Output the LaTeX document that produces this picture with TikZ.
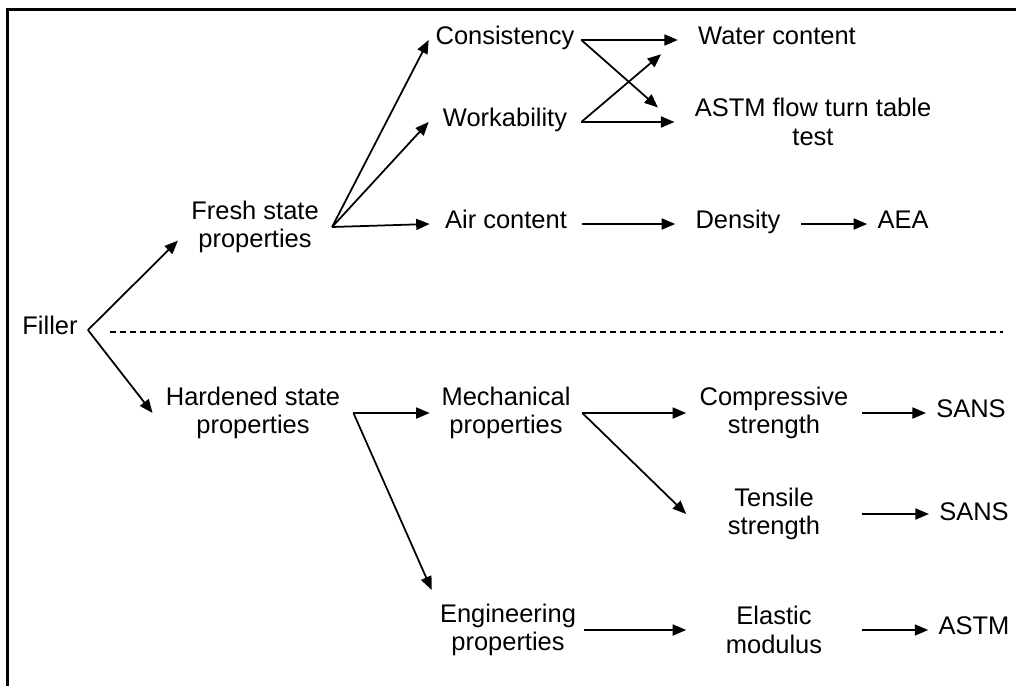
\documentclass[tikz,border=0pt]{standalone}
\usepackage{fontspec}
\setmainfont{Liberation Sans}
\usetikzlibrary{arrows.meta,positioning}
\definecolor{ink}{RGB}{0,0,0}
\tikzset{
  lbl/.style={align=center,text=ink,inner ysep=2pt,
              font=\fontsize{14.5}{16.3}\selectfont},
  one/.style={text height=0.75em,text depth=0.25em},
  colA/.style={lbl,inner xsep=0.26cm},
  colB/.style={lbl,minimum width=3.04cm,inner xsep=0.1cm},
  colC/.style={lbl,inner xsep=0.4cm},
  colD/.style={lbl,minimum width=3.5cm,inner xsep=0.1cm},
  colE/.style={lbl,one,inner xsep=0.2cm},
  arrow/.style={-{Triangle[length=0.27cm,width=0.22cm]},line width=1pt,ink},
  cross/.style={arrow,shorten >=0.44cm},
  sepline/.style={dashed,dash pattern=on 0.12cm off 0.08cm,line width=0.6pt,ink},
}
\begin{document}
\begin{tikzpicture}[x=0.02cm,y=-0.02cm]
  \useasboundingbox (0,0) rectangle (1016,686);
  \draw[line width=1.5pt,ink] (7.3,686) |- (1016,9.3);

  \node[lbl,one,inner xsep=0.2cm] (filler) at (50,330) {Filler};
  \node[colA] (fresh) at (255,227) {Fresh state\\properties};
  \node[colA] (hard) at (253,413) {Hardened state\\properties};

  \node[colB,one] (consist) at (505,40) {Consistency};
  \node[colB,one] (work) at (505,122) {Workability};
  \node[colB,one] (air) at (506,224) {Air content};
  \node[colB] (mech) at (506,413) {Mechanical\\properties};
  \node[colB] (eng) at (508,630) {Engineering\\properties};

  \node[colC,one] (water) at (777,40) {Water content};
  \node[colC] (flow) at (813,122) {ASTM flow turn table\\test};
  \node[colC,one] (dens) at (738,224) {Density};
  \node[colE] (aea) at (903,224) {AEA};

  \node[colD] (comp) at (774,413) {Compressive\\strength};
  \node[colD] (tens) at (774,514) {Tensile\\strength};
  \node[colD] (elast) at (774,630) {Elastic\\modulus};
  \node[colE] (sans1) at (971,413) {SANS};
  \node[colE] (sans2) at (974,516) {SANS};
  \node[colE] (astm) at (974,630) {ASTM};

  \coordinate (sepL) at (110,332);
  \coordinate (sepR) at (1003,332);
  \draw[sepline] (sepL) -- (sepR);

  \draw[arrow] (filler.east) -- (fresh.190);
  \draw[arrow] (filler.east) -- (hard.west);
  \draw[arrow] (fresh.east) -- (consist.west);
  \draw[arrow] (fresh.east) -- (work.west);
  \draw[arrow] (fresh.east) -- (air.west);
  \draw[arrow] (consist.east) -- (water.west);
  \draw[cross] (consist.east) -- (flow.west);
  \draw[cross] (work.east) -- (water.west);
  \draw[arrow] (work.east) -- (flow.west);
  \draw[arrow] (air.east) -- (dens.west);
  \draw[arrow] (dens.east) -- (aea.west);

  \draw[arrow] (hard.east) -- (mech.west);
  \draw[arrow] (hard.east) -- ([yshift=0.2cm]eng.north west);
  \draw[arrow] (mech.east) -- (comp.west);
  \draw[arrow] (mech.east) -- (tens.west);
  \draw[arrow] (eng.east) -- (elast.west);
  \draw[arrow] (comp.east) -- (sans1.west |- comp.east);
  \draw[arrow] (tens.east) -- (sans2.west |- tens.east);
  \draw[arrow] (elast.east) -- (astm.west);
\end{tikzpicture}
\end{document}
